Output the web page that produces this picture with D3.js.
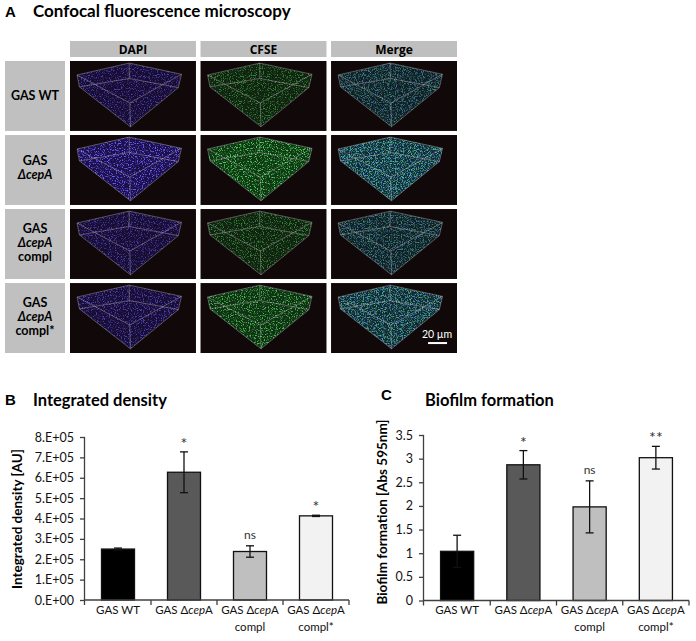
<!DOCTYPE html>
<html>
<head>
<meta charset="utf-8">
<script src="https://cdn.jsdelivr.net/npm/d3@7"></script>
<style>
  body { margin: 0; background: #fff; }
  svg { display: block; font-family: Lato, "Noto Sans", sans-serif; }
</style>
</head>
<body>
<svg id="fig" width="696" height="641"></svg>
<script>
// ---- data ----
const channels = ["DAPI", "CFSE", "Merge"];
const strains = ["GAS WT", "GAS ΔcepA", "GAS ΔcepA compl", "GAS ΔcepA compl*"];
const rowLabelLines = [["GAS WT"], ["GAS", "ΔcepA"], ["GAS", "ΔcepA", "compl"], ["GAS", "ΔcepA", "compl*"]];
// rough brightness of each microscopy panel (row x channel)
const panelSignal = [[0.6, 0.55, 0.6], [1.0, 1.0, 1.0], [0.6, 0.55, 0.6], [0.65, 0.85, 0.9]];

const groupLabelLines = [["GAS WT"], ["GAS ΔcepA"], ["GAS ΔcepA", "compl"], ["GAS ΔcepA", "compl*"]];
const barColors = ["#000000", "#595959", "#bfbfbf", "#f2f2f2"];

const densityMean = [2.5e5, 6.27e5, 2.38e5, 4.13e5];
const densityErr = [0.05e5, 1.0e5, 0.28e5, 0.03e5];
const densitySig = ["", "*", "ns", "*"];
const densityTicks = [0, 1e5, 2e5, 3e5, 4e5, 5e5, 6e5, 7e5, 8e5];
const densityTickLabels = ["0.E+00", "1.E+05", "2.E+05", "3.E+05", "4.E+05", "5.E+05", "6.E+05", "7.E+05", "8.E+05"];

const biofilmMean = [1.04, 2.87, 1.98, 3.02];
const biofilmErr = [0.34, 0.30, 0.55, 0.24];
const biofilmSig = ["", "*", "ns", "**"];
const biofilmTicks = [0, 0.5, 1, 1.5, 2, 2.5, 3, 3.5];
const biofilmTickLabels = ["0", "0.5", "1", "1.5", "2", "2.5", "3", "3.5"];

const svg = d3.select("#fig");
const defs = svg.append("defs");

// ---- panel A: microscopy grid ----
svg.append("text").attr("x", 5).attr("y", 17)
    .style("font-family", "Liberation Sans, Arial, sans-serif").style("font-weight", "bold").style("font-size", "15px")
    .text("A");
svg.append("text").attr("x", 33).attr("y", 17)
    .style("font-weight", "bold").style("font-size", "17px")
    .text("Confocal fluorescence microscopy");

const colX = d3.scaleBand().domain(channels).range([70, 457]).paddingInner(0.035);
const rowY = d3.scaleBand().domain(strains).range([61, 353]).paddingInner(0.055);

svg.append("g").selectAll("g").data(channels).join("g")
    .each(function (c) {
        const g = d3.select(this);
        g.append("rect").attr("x", colX(c)).attr("y", 41).attr("width", colX.bandwidth()).attr("height", 16)
            .attr("fill", "#bfbfbf");
        g.append("text").attr("x", colX(c) + colX.bandwidth() / 2).attr("y", 53.5)
            .attr("text-anchor", "middle").style("font-family", "'Open Sans', sans-serif")
            .style("font-weight", "bold").style("font-size", "12px").text(c);
    });

// row label boxes
svg.append("g").selectAll("g").data(strains).join("g")
    .each(function (s, i) {
        const g = d3.select(this);
        const y0 = rowY(s), h = rowY.bandwidth();
        g.append("rect").attr("x", 5).attr("y", y0).attr("width", 60).attr("height", h).attr("fill", "#c0c0c0");
        const lines = rowLabelLines[i];
        const cy = y0 + h / 2 - (lines.length > 1 ? 2 : 0);
        lines.forEach((ln, k) => {
            g.append("text").attr("x", 35).attr("y", cy + (k - (lines.length - 1) / 2) * 14 + 4.5)
                .attr("text-anchor", "middle").style("font-weight", "bold").style("font-size", "12.5px")
                .style("font-style", ln.startsWith("Δ") ? "italic" : "normal").text(ln);
        });
    });

// speckle filters, one per layer
const speckColors = { blue: [0.42, 0.36, 1.0], green: [0.3, 0.85, 0.35], cyan: [0.35, 0.7, 1.0] };
function speckFilter(id, col, seed) {
    const f = defs.append("filter").attr("id", id).attr("x", 0).attr("y", 0).attr("width", 1).attr("height", 1)
        .attr("color-interpolation-filters", "sRGB");
    f.append("feTurbulence").attr("type", "fractalNoise").attr("baseFrequency", 0.85).attr("numOctaves", 2)
        .attr("seed", seed).attr("result", "n");
    f.append("feColorMatrix").attr("in", "n").attr("type", "matrix")
        .attr("values", `0 0 0 0 ${col[0]}  0 0 0 0 ${col[1]}  0 0 0 0 ${col[2]}  5 0 0 0 -2.6`);
}

// box corners as fractions of the panel
const corner = {
    BT: [0.47, 0.03], LT: [0.056, 0.2], RT: [0.885, 0.19], FT: [0.475, 0.6],
    BB: [0.47, 0.25], LB: [0.075, 0.37], RB: [0.86, 0.38], FB: [0.48, 0.94]
};
const edges = [["BT", "LT"], ["BT", "RT"], ["LT", "FT"], ["RT", "FT"], ["BB", "LB"], ["BB", "RB"], ["LB", "FB"], ["RB", "FB"],
    ["BT", "BB"], ["LT", "LB"], ["RT", "RB"], ["FT", "FB"]];
const hull = ["LT", "BT", "RT", "RB", "FB", "LB"];

const layersFor = { DAPI: [["blue", 1]], CFSE: [["green", 1]], Merge: [["cyan", 0.85], ["green", 0.7]] };
const glowFor = { DAPI: "#2a1a9a", CFSE: "#15702a", Merge: "#18507a" };

let seedN = 1;
strains.forEach((s, r) => {
    channels.forEach((c, ci) => {
        const x0 = colX(c), y0 = rowY(s), w = colX.bandwidth(), h = rowY.bandwidth();
        const px = k => x0 + corner[k][0] * w, py = k => y0 + corner[k][1] * h;
        const g = svg.append("g");
        g.append("rect").attr("x", x0).attr("y", y0).attr("width", w).attr("height", h).attr("fill", "#110909");
        const clipId = `clip-${r}-${ci}`;
        defs.append("clipPath").attr("id", clipId).append("polygon")
            .attr("points", hull.map(k => `${px(k)},${py(k)}`).join(" "));
        const inner = g.append("g").attr("clip-path", `url(#${clipId})`);
        inner.append("rect").attr("x", x0).attr("y", y0).attr("width", w).attr("height", h)
            .attr("fill", glowFor[c]).attr("opacity", 0.45 * panelSignal[r][ci]);
        layersFor[c].forEach(([col, op]) => {
            const fid = `sp-${seedN}`;
            speckFilter(fid, speckColors[col], seedN++);
            inner.append("rect").attr("x", x0).attr("y", y0).attr("width", w).attr("height", h)
                .attr("fill", "#fff").attr("filter", `url(#${fid})`).attr("opacity", op * panelSignal[r][ci]);
        });
        g.selectAll("line.edge").data(edges).join("line").attr("class", "edge")
            .attr("x1", d => px(d[0])).attr("y1", d => py(d[0]))
            .attr("x2", d => px(d[1])).attr("y2", d => py(d[1]))
            .attr("stroke", "#c8c0c8").attr("stroke-opacity", 0.55).attr("stroke-width", 0.7);
    });
});

// scale bar on last merge panel
{
    const x0 = colX("Merge"), y0 = rowY(strains[3]);
    svg.append("text").attr("x", x0 + 106).attr("y", y0 + 55).attr("text-anchor", "middle")
        .attr("fill", "#fff").style("font-size", "10.5px").text("20 µm");
    svg.append("line").attr("x1", x0 + 97).attr("x2", x0 + 116).attr("y1", y0 + 60).attr("y2", y0 + 60)
        .attr("stroke", "#fff").attr("stroke-width", 2);
}

// ---- bar charts ----
function labelWithItalic(sel, str) {
    const parts = str.split("cep");
    parts.forEach((p, i) => {
        if (i > 0) sel.append("tspan").style("font-style", "italic").text("cep");
        if (p) sel.append("tspan").text(p);
    });
}

function barChart(cfg) {
    const g = svg.append("g");
    const x = d3.scaleBand().domain(strains).range([cfg.x0, cfg.x1]).paddingInner(0.5).paddingOuter(0.25);
    const y = d3.scaleLinear().domain([0, cfg.max]).range([cfg.yBase, cfg.yTop]);
    const axisCol = "#404040";

    g.append("text").attr("x", cfg.letterX).attr("y", cfg.letterY)
        .style("font-family", "Liberation Sans, Arial, sans-serif").style("font-weight", "bold").style("font-size", "15px")
        .text(cfg.letter);
    g.append("text").attr("x", cfg.titleX).attr("y", 406)
        .style("font-weight", "bold").style("font-size", "16.5px").text(cfg.title);

    // y axis
    const yAxis = d3.axisLeft(y).tickValues(cfg.ticks).tickFormat((d, i) => cfg.tickLabels[i]).tickSize(5).tickPadding(6);
    const ya = g.append("g").attr("transform", `translate(${cfg.x0},0)`).call(yAxis);
    ya.select(".domain").attr("stroke", axisCol).attr("stroke-width", 1.3).attr("d", `M-0.5,${cfg.yBase + 5}V${cfg.yTop}`);
    ya.selectAll(".tick line").attr("stroke", axisCol).attr("stroke-width", 1.3);
    ya.selectAll(".tick text").attr("fill", "#111").style("font-size", "12.5px").style("font-family", "Lato, sans-serif");

    g.append("text").attr("transform", `translate(${cfg.yTitleX},${cfg.yTitleY}) rotate(-90)`)
        .attr("text-anchor", "middle").style("font-weight", "bold").style("font-size", "13.5px").text(cfg.yTitle);

    // bars
    g.selectAll("rect.bar").data(cfg.means).join("rect").attr("class", "bar")
        .attr("x", (d, i) => x(strains[i])).attr("width", x.bandwidth())
        .attr("y", d => y(d)).attr("height", d => y(0) - y(d))
        .attr("fill", (d, i) => barColors[i]).attr("stroke", "#111").attr("stroke-width", 1.3);

    // error bars
    const eb = g.selectAll("g.err").data(cfg.means).join("g").attr("class", "err")
        .attr("transform", (d, i) => `translate(${x(strains[i]) + x.bandwidth() / 2},0)`);
    eb.append("line").attr("y1", (d, i) => y(d - cfg.errs[i])).attr("y2", (d, i) => y(d + cfg.errs[i]))
        .attr("stroke", "#111").attr("stroke-width", 1.3);
    eb.append("line").attr("x1", -4).attr("x2", 4).attr("y1", (d, i) => y(d + cfg.errs[i])).attr("y2", (d, i) => y(d + cfg.errs[i]))
        .attr("stroke", "#111").attr("stroke-width", 1.3);
    eb.append("line").attr("x1", -4).attr("x2", 4).attr("y1", (d, i) => y(d - cfg.errs[i])).attr("y2", (d, i) => y(d - cfg.errs[i]))
        .attr("stroke", "#111").attr("stroke-width", 1.3);
    eb.append("text").attr("text-anchor", "middle")
        .attr("y", (d, i) => y(d + cfg.errs[i]) - (cfg.sig[i] === "ns" ? 7 : 3))
        .attr("fill", "#333").style("font-size", (d, i) => cfg.sig[i] === "ns" ? "12px" : "16px")
        .text((d, i) => cfg.sig[i]);

    // x axis with category separators
    g.append("line").attr("x1", cfg.x0).attr("x2", cfg.x1).attr("y1", y(0)).attr("y2", y(0))
        .attr("stroke", axisCol).attr("stroke-width", 1.3);
    g.selectAll("line.sep").data(strains).join("line").attr("class", "sep")
        .attr("x1", (d, i) => cfg.x0 + (i + 1) * x.step()).attr("x2", (d, i) => cfg.x0 + (i + 1) * x.step())
        .attr("y1", y(0)).attr("y2", y(0) + 5).attr("stroke", axisCol).attr("stroke-width", 1.3);

    g.selectAll("g.xl").data(groupLabelLines).join("g").attr("class", "xl")
        .each(function (lines, i) {
            const cx = x(strains[i]) + x.bandwidth() / 2;
            lines.forEach((ln, k) => {
                const t = d3.select(this).append("text").attr("x", cx).attr("y", 614 + k * 16.5)
                    .attr("text-anchor", "middle").attr("fill", "#111").style("font-size", "11.5px");
                labelWithItalic(t, ln);
            });
        });
}

barChart({
    letter: "B", letterX: 5, letterY: 405, title: "Integrated density", titleX: 33,
    x0: 85, x1: 349, yBase: 600, yTop: 437, max: 8e5,
    ticks: densityTicks, tickLabels: densityTickLabels,
    means: densityMean, errs: densityErr, sig: densitySig,
    yTitle: "Integrated density [AU]", yTitleX: 22, yTitleY: 519
});
barChart({
    letter: "C", letterX: 381, letterY: 400, title: "Biofilm formation", titleX: 425,
    x0: 424, x1: 689, yBase: 600.5, yTop: 435, max: 3.5,
    ticks: biofilmTicks, tickLabels: biofilmTickLabels,
    means: biofilmMean, errs: biofilmErr, sig: biofilmSig,
    yTitle: "Biofilm formation [Abs 595nm]", yTitleX: 387, yTitleY: 512
});
</script>
</body>
</html>
